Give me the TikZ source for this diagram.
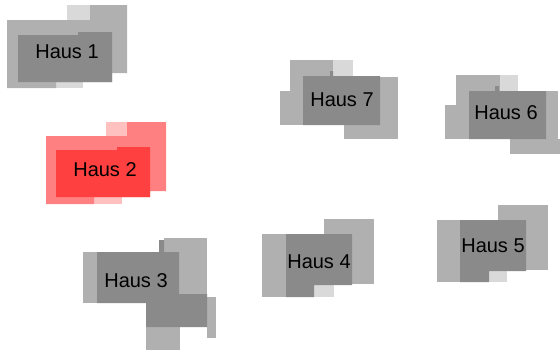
\documentclass[tikz,border=0pt]{standalone}
\usepackage{fontspec}
\setmainfont{Liberation Sans}

\definecolor{grayA}{HTML}{D9D9D9}
\definecolor{grayB}{HTML}{B0B0B0}
\definecolor{grayC}{HTML}{8A8A8A}
\definecolor{redA}{HTML}{FFC0C0}
\definecolor{redB}{HTML}{FF8080}
\definecolor{redC}{HTML}{FF4040}

\tikzset{
    lvlone/.style={fill=grayA},
    lvltwo/.style={fill=grayB},
    lvlthree/.style={fill=grayC},
    hauslabel/.style={font=\fontsize{20}{22}\selectfont, inner sep=0pt}
}

\begin{document}
\begin{tikzpicture}[x=1pt,y=-1pt]
    \useasboundingbox (0,0) rectangle (560,354);

    % Haus 1
    \fill[lvlone] (67,5) rectangle (90,20);
    \fill[lvlone] (56,82) rectangle (83,88);
    \fill[lvltwo] (7,20) -- (90,20) -- (90,5) -- (127,5) -- (127,73) -- (112,73)
        -- (112,82) -- (56,82) -- (56,88) -- (7,88) -- cycle;
    \fill[lvlthree] (18,35) -- (78,35) -- (78,32) -- (112,32) -- (112,82) -- (18,82) -- cycle;
    \node[hauslabel] (h1) at (67,52) {Haus 1};

    % Haus 2
    \fill[redA] (106,122) rectangle (127,136);
    \fill[redA] (94,197) rectangle (122,204);
    \fill[redB] (46,136) -- (127,136) -- (127,122) -- (166,122) -- (166,191) -- (150,191)
        -- (150,197) -- (94,197) -- (94,204) -- (46,204) -- cycle;
    \fill[redC] (56,150) -- (117,150) -- (117,147) -- (150,147) -- (150,197) -- (56,197) -- cycle;
    \node[hauslabel] (h2) at (105,170) {Haus 2};

    % Haus 3
    \fill[lvltwo] (83,252) rectangle (97,303);
    \fill[lvltwo] (164,238) rectangle (207,294);
    \fill[lvltwo] (207,297) rectangle (216,338);
    \fill[lvltwo] (146,327) rectangle (180,350);
    \fill[lvlthree] (97,252) -- (159,252) -- (159,240) -- (164,240) -- (164,252) -- (179,252)
        -- (179,294) -- (207,294) -- (207,327) -- (146,327) -- (146,303) -- (97,303) -- cycle;
    \node[hauslabel] (h3) at (136,281) {Haus 3};

    % Haus 4
    \fill[lvlone] (314,285) rectangle (334,297);
    \fill[lvltwo] (324,219) rectangle (374,284);
    \fill[lvltwo] (262,234) rectangle (286,297);
    \fill[lvlthree] (286,234) -- (352,234) -- (352,285) -- (314,285) -- (314,297) -- (286,297) -- cycle;
    \node[hauslabel] (h4) at (319,262) {Haus 4};

    % Haus 5
    \fill[lvlone] (489,271) rectangle (507,282);
    \fill[lvltwo] (498,205) rectangle (548,270);
    \fill[lvltwo] (437,220) rectangle (460,282);
    \fill[lvlthree] (460,220) -- (526,220) -- (526,271) -- (489,271) -- (489,282) -- (460,282) -- cycle;
    \node[hauslabel] (h5) at (493,246) {Haus 5};

    % Haus 6
    \fill[lvlone] (500,75) rectangle (518,91);
    \fill[lvltwo] (456,75) rectangle (500,91);
    \fill[lvltwo] (456,75) rectangle (469,139);
    \fill[lvltwo] (445,105) rectangle (469,139);
    \fill[lvltwo] (546,91) rectangle (558,139);
    \fill[lvltwo] (510,139) rectangle (560,154);
    \fill[lvlthree] (469,91) -- (495,91) -- (495,86) -- (499,86) -- (499,91) -- (546,91)
        -- (546,139) -- (469,139) -- cycle;
    \node[hauslabel] (h6) at (506,113) {Haus 6};

    % Haus 7
    \fill[lvlone] (333,60) rectangle (353,76);
    \fill[lvltwo] (290,60) rectangle (333,76);
    \fill[lvltwo] (290,60) rectangle (303,125);
    \fill[lvltwo] (280,91) rectangle (303,125);
    \fill[lvltwo] (380,77) rectangle (398,125);
    \fill[lvltwo] (344,125) rectangle (398,139);
    \fill[lvlthree] (303,76) -- (330,76) -- (330,71) -- (333,71) -- (333,76) -- (380,76)
        -- (380,125) -- (303,125) -- cycle;
    \node[hauslabel] (h7) at (342,100) {Haus 7};

\end{tikzpicture}
\end{document}
